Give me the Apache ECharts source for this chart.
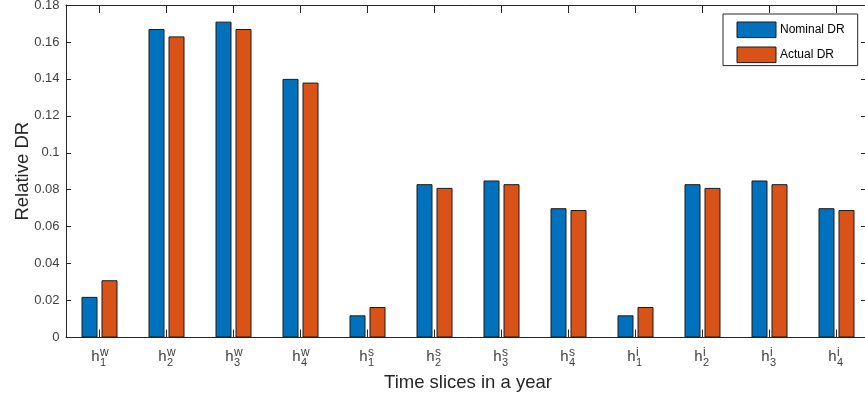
<!DOCTYPE html>
<html>
<head>
<meta charset="utf-8">
<script src="https://cdn.jsdelivr.net/npm/echarts@6/dist/echarts.min.js"></script>
<style>html,body{margin:0;padding:0;background:#fff;}#c{width:865px;height:400px;}</style>
</head>
<body>
<div id="c"></div>
<script>
const baseLabels = ['h','h','h','h','h','h','h','h','h','h','h','h'];
const supLabels = ['w','w','w','w','s','s','s','s','i','i','i','i'];
const subLabels = ['1','2','3','4','1','2','3','4','1','2','3','4'];
const categories = baseLabels.map((b, i) => b + supLabels[i] + subLabels[i]);
const nominalDR = [0.022, 0.167, 0.171, 0.140, 0.012, 0.083, 0.085, 0.070, 0.012, 0.083, 0.085, 0.070];
const actualDR = [0.031, 0.163, 0.167, 0.138, 0.0165, 0.081, 0.083, 0.069, 0.0165, 0.081, 0.083, 0.069];
const yTicks = [0, 0.02, 0.04, 0.06, 0.08, 0.1, 0.12, 0.14, 0.16, 0.18];

const FONT = 'Liberation Sans, Arial, sans-serif';
const AX = '#262626';
const chart = echarts.init(document.getElementById('c'), null, {renderer: 'canvas'});
const baseCat = {
  type: 'category', data: categories, boundaryGap: true,
  axisLine: {show: false}, axisTick: {show: false}, splitLine: {show: false}
};
chart.setOption({
  animation: false,
  backgroundColor: '#fff',
  textStyle: {fontFamily: FONT},
  grid: {left: 66, top: 5, width: 804, height: 332.5, containLabel: false, outerBoundsMode: 'none'},
  legend: {
    orient: 'vertical', left: 723, top: 14,
    padding: [7.5, 13, 2.5, 13.5],
    itemWidth: 39, itemHeight: 15.6, itemGap: 8.4,
    borderColor: AX, borderWidth: 1, borderRadius: 0, backgroundColor: '#fff',
    icon: 'rect',
    textStyle: {fontSize: 12, color: '#000', fontFamily: FONT, padding: [0, 0, 0, -1]},
    itemStyle: {borderColor: '#1a1a1a', borderWidth: 1},
    data: ['Nominal DR', 'Actual DR']
  },
  xAxis: [
    Object.assign({}, baseCat, {
      position: 'bottom',
      axisLine: {show: true, lineStyle: {color: AX, width: 1}},
      axisTick: {show: true, inside: true, length: 8, alignWithLabel: true, lineStyle: {color: AX}},
      axisLabel: {
        interval: 0, margin: 11.5, align: 'right', fontSize: 15, lineHeight: 15, color: '#404040', fontFamily: FONT,
        formatter: (v, i) => baseLabels[i]
      },
      name: 'Time slices in a year', nameLocation: 'middle', nameGap: 36, nameMoveOverlap: false,
      nameTextStyle: {fontSize: 18.5, color: '#262626', fontFamily: FONT}
    }),
    Object.assign({}, baseCat, {
      position: 'bottom',
      axisLabel: {
        interval: 0, margin: 9.2, align: 'left', color: '#404040', fontFamily: FONT,
        formatter: (v, i) => '{a|' + supLabels[i] + '}\n{b|' + subLabels[i] + '}',
        rich: {
          a: {fontSize: 12, lineHeight: 11, color: '#404040', fontFamily: FONT, padding: [0, 0, 0, 0.5]},
          b: {fontSize: 11, lineHeight: 11, color: '#404040', fontFamily: FONT, padding: [0, 0, 0, 0.5]}
        }
      }
    }),
    Object.assign({}, baseCat, {
      position: 'top',
      axisLine: {show: true, lineStyle: {color: AX, width: 1}},
      axisTick: {show: true, inside: true, length: 8, alignWithLabel: true, lineStyle: {color: AX}},
      axisLabel: {show: false}
    })
  ],
  yAxis: [
    {
      type: 'value', min: 0, max: 0.18, interval: 0.02, position: 'left',
      axisLine: {show: true, lineStyle: {color: AX, width: 1}},
      axisTick: {show: true, inside: true, length: 5, lineStyle: {color: AX}},
      splitLine: {show: false},
      axisLabel: {
        margin: 6.5, fontSize: 13, color: '#404040', fontFamily: FONT,
        formatter: v => { const t = yTicks.find(x => Math.abs(x - v) < 1e-9); return t === undefined ? '' : String(t); }
      },
      name: 'Relative DR', nameLocation: 'middle', nameGap: 34, nameRotate: 90, nameMoveOverlap: false,
      nameTextStyle: {fontSize: 18.5, color: '#262626', fontFamily: FONT}
    },
    {
      type: 'value', min: 0, max: 0.18, interval: 0.02, position: 'right', offset: -4,
      axisLine: {show: true, lineStyle: {color: AX, width: 1}},
      axisTick: {show: true, inside: true, length: 5, lineStyle: {color: AX}},
      splitLine: {show: false},
      axisLabel: {show: false}
    }
  ],
  series: [
    {
      name: 'Nominal DR', type: 'bar', xAxisIndex: 0, yAxisIndex: 0, data: nominalDR,
      barWidth: 16, barGap: '25%',
      itemStyle: {color: '#0072BD', borderColor: '#1a1a1a', borderWidth: 1}
    },
    {
      name: 'Actual DR', type: 'bar', xAxisIndex: 0, yAxisIndex: 0, data: actualDR,
      barWidth: 16, barGap: '25%',
      itemStyle: {color: '#D95319', borderColor: '#1a1a1a', borderWidth: 1}
    }
  ]
});
</script>
</body>
</html>
